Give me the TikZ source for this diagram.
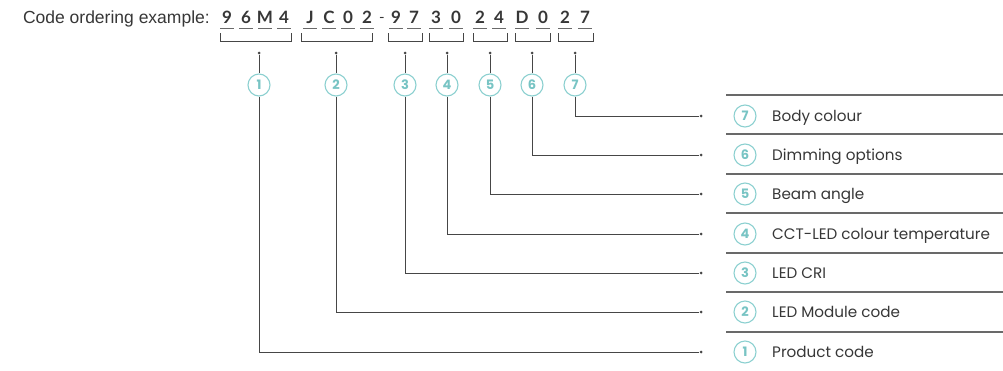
\documentclass[tikz,border=0pt]{standalone}
\usepackage{fontspec}
\setmainfont{Poppins}
\newfontfamily\titlefont{Liberation Sans}
\newfontfamily\codefont{Lato}
\usetikzlibrary{calc}
\usetikzlibrary{positioning}
\definecolor{tealring}{RGB}{140,208,208}
\definecolor{tealdigit}{RGB}{120,196,196}
\definecolor{linegray}{RGB}{70,70,70}
\definecolor{rulegray}{RGB}{105,105,105}
\definecolor{textgray}{RGB}{55,55,55}
\tikzset{
    char/.style={font=\codefont\fontsize{17}{17}\selectfont\bfseries, text=textgray, inner sep=0pt, anchor=base},
    under/.style={draw=rulegray, line width=0.8pt},
    bracket/.style={draw=linegray, line width=0.8pt},
    dot/.style={circle, fill=linegray, inner sep=0pt, minimum size=3pt},
    num/.style={circle, draw=tealring, line width=1.1pt, minimum size=22pt, inner sep=0pt, text=tealdigit, font=\fontsize{13}{13}\selectfont\bfseries},
    wire/.style={draw=linegray, line width=0.8pt},
    rule/.style={draw=rulegray, line width=1.2pt},
    item/.style={anchor=base west, text=textgray, font=\fontsize{15.2}{15.2}\selectfont, inner sep=0pt}
}

\begin{document}
\begin{tikzpicture}[x=1pt, y=-1pt]
    \useasboundingbox (0,0) rectangle (1003,370);

    % code ordering line
    \node[anchor=base east, inner sep=0pt, text=textgray, font=\titlefont\fontsize{17.5}{17.5}\selectfont] (title) at (210,23) {Code ordering example:};
    \path
        node[char] (c1) at (227,23) {9}
        node[char] (c2) at (246,23) {6}
        node[char] (c3) at (265,23) {M}
        node[char] (c4) at (284,23) {4}
        node[char] (c5) at (310,23) {J}
        node[char] (c6) at (329,23) {C}
        node[char] (c7) at (348,23) {0}
        node[char] (c8) at (367,23) {2}
        node[char, font=\codefont\fontsize{15}{15}\selectfont] (dash) at (382,22) {-}
        node[char] (c9) at (396,23) {9}
        node[char] (c10) at (414,23) {7}
        node[char] (c11) at (436,23) {3}
        node[char] (c12) at (456,23) {0}
        node[char] (c13) at (480,23) {2}
        node[char] (c14) at (499,23) {4}
        node[char] (c15) at (522,23) {D}
        node[char] (c16) at (543,23) {0}
        node[char] (c17) at (565,23) {2}
        node[char] (c18) at (585,23) {7};

    \foreach \c in {c1,c2,c3,c4,c5,c6,c7,c8,c9,c10,c11,c12,c13,c14,c15,c16,c17,c18}
        \draw[under] ($(\c.base)+(-7,5)$) -- ($(\c.base)+(7,5)$);

    % brackets
    \draw[bracket] (220,33) |- (291,41) -- (291,33);
    \draw[bracket] (301,33) |- (372,41) -- (372,33);
    \draw[bracket] (388,33) |- (422,41) -- (422,33);
    \draw[bracket] (429,33) |- (463,41) -- (463,33);
    \draw[bracket] (473,33) |- (507,41) -- (507,33);
    \draw[bracket] (515,33) |- (550,41) -- (550,33);
    \draw[bracket] (558,33) |- (593,41) -- (593,33);

    % ticks and numbers
    \path
        node[dot] (t1) at (259,53) {}
        node[dot] (t2) at (336,53) {}
        node[dot] (t3) at (405,53) {}
        node[dot] (t4) at (447,53) {}
        node[dot] (t5) at (490,53) {}
        node[dot] (t6) at (532,53) {}
        node[dot] (t7) at (575,53) {};
    \path
        node[num] (n1) at (259,85) {1}
        node[num] (n2) at (336,85) {2}
        node[num] (n3) at (405,85) {3}
        node[num] (n4) at (447,85) {4}
        node[num] (n5) at (490,85) {5}
        node[num] (n6) at (532,85) {6}
        node[num] (n7) at (575,85) {7};

    % legend rows
    \path
        node[dot] (e7) at (701,116) {}
        node[dot] (e6) at (701,155) {}
        node[dot] (e5) at (701,194) {}
        node[dot] (e4) at (701,234) {}
        node[dot] (e3) at (701,273) {}
        node[dot] (e2) at (701,312) {}
        node[dot] (e1) at (701,352) {};
    \path
        node[num] (r7) at (745,116) {7}
        node[num] (r6) at (745,155) {6}
        node[num] (r5) at (745,194) {5}
        node[num] (r4) at (745,234) {4}
        node[num] (r3) at (745,273) {3}
        node[num] (r2) at (745,312) {2}
        node[num] (r1) at (745,352) {1};
    \node[item] (l7) at (772,121.5) {Body colour};
    \node[item] (l6) at (772,160.5) {Dimming options};
    \node[item] (l5) at (772,199.5) {Beam angle};
    \node[item] (l4) at (772,239.5) {CCT-LED colour temperature};
    \node[item] (l3) at (772,278.5) {LED CRI};
    \node[item] (l2) at (772,317.5) {LED Module code};
    \node[item] (l1) at (772,357.5) {Product code};

    \draw[rule] (726,95) -- (1003,95) (726,134) -- (1003,134) (726,174) -- (1003,174)
        (726,213) -- (1003,213) (726,253) -- (1003,253) (726,292) -- (1003,292) (726,332) -- (1003,332);

    % connectors
    \draw[wire] (t1) -- (n1) (n1) |- (e1);
    \draw[wire] (t2) -- (n2) (n2) |- (e2);
    \draw[wire] (t3) -- (n3) (n3) |- (e3);
    \draw[wire] (t4) -- (n4) (n4) |- (e4);
    \draw[wire] (t5) -- (n5) (n5) |- (e5);
    \draw[wire] (t6) -- (n6) (n6) |- (e6);
    \draw[wire] (t7) -- (n7) (n7) |- (e7);
\end{tikzpicture}
\end{document}
